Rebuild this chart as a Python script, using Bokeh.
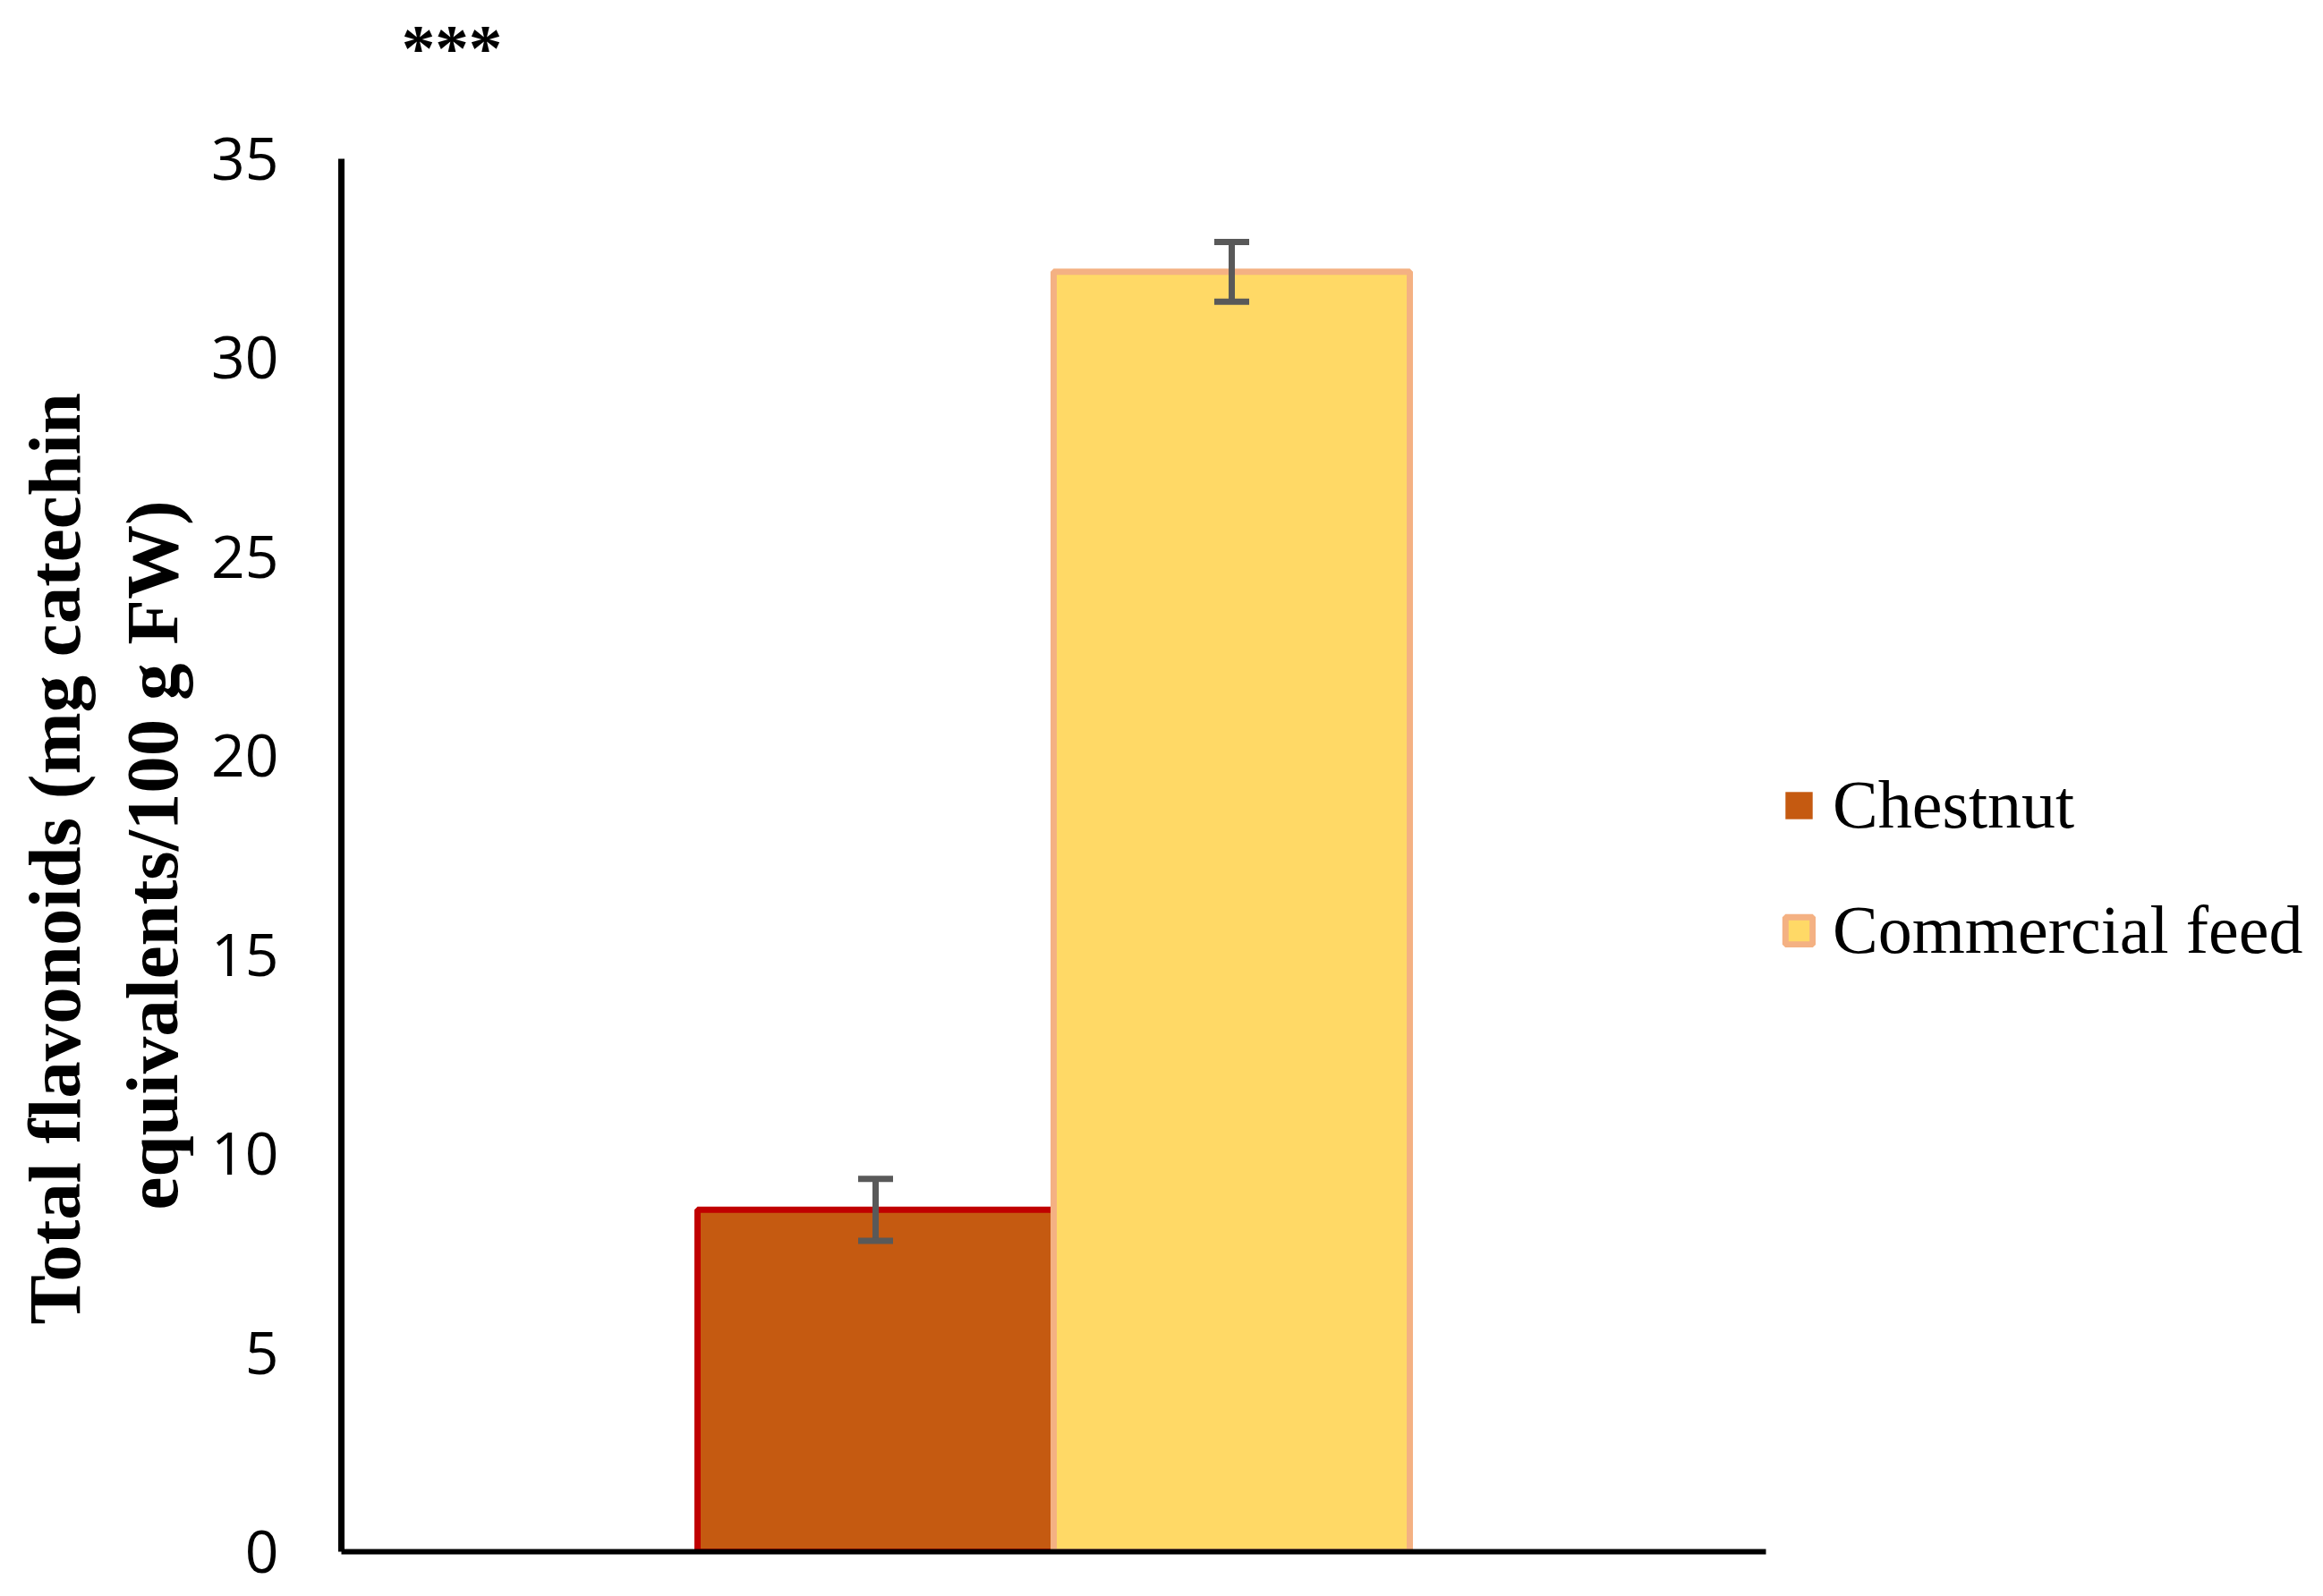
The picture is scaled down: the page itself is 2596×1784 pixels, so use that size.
from bokeh.plotting import figure
from bokeh.models import (ColumnDataSource, Range1d, FixedTicker, Whisker, TeeHead,
                          Legend, LegendItem, Label, Title)
from bokeh.embed import file_html
from bokeh.resources import INLINE

# ---- data ----
groups = ["Chestnut", "Commercial feed"]
x_pos = [1.5, 2.5]
means = [8.59, 32.16]
errors = [0.78, 0.75]
fill_colors = ["#C55A11", "#FFD966"]
line_colors = ["#C00000", "#F4B183"]
y_ticks = [0, 5, 10, 15, 20, 25, 30, 35]
y_max = 35
x_max = 4
y_title_lines = ["Total flavonoids (mg catechin", "equivalents/100 g FW)"]
signif = "***"

# ---- layout (pixels) ----
W, H = 2580, 1768
left_px, axis_right_px = 381, 1973      # ends of the drawn x axis
top_px, bottom_px = 177, 1734           # ends of the drawn y axis
mb_top, mb_right = 10, 0
px_per_x = (axis_right_px - left_px) / x_max
px_per_y = (bottom_px - top_px) / y_max
x_end = x_max + (W - mb_right - axis_right_px) / px_per_x
y_end = y_max + (top_px - mb_top) / px_per_y
title_px = 83
# approximate text lengths (Times bold em widths) to centre each title line on the axis
title_em = [12.639, 9.556]
axis_mid_from_bottom = (bottom_px - top_px) / 2
title_offsets = [axis_mid_from_bottom - e * title_px / 2 for e in title_em]

p = figure(width=W, height=H, output_backend="svg", toolbar_location=None,
           x_range=Range1d(0, x_end), y_range=Range1d(0, y_end),
           min_border_left=left_px, min_border_right=mb_right,
           min_border_top=mb_top, min_border_bottom=H - bottom_px)
p.outline_line_color = None
p.xgrid.grid_line_color = None
p.ygrid.grid_line_color = None
p.background_fill_color = "white"
p.border_fill_color = "white"

src_c = ColumnDataSource(dict(x=[x_pos[0]], top=[means[0]],
                              upper=[means[0] + errors[0]], lower=[means[0] - errors[0]]))
src_f = ColumnDataSource(dict(x=[x_pos[1]], top=[means[1]],
                              upper=[means[1] + errors[1]], lower=[means[1] - errors[1]]))

# chestnut: fill (legend) + red outline
r_c = p.vbar(x="x", top="top", width=1, bottom=0, source=src_c,
             fill_color=fill_colors[0], line_color=None)
p.vbar(x="x", top="top", width=1, bottom=0, source=src_c,
       fill_alpha=0, line_color=line_colors[0], line_width=7)
r_f = p.vbar(x="x", top="top", width=1, bottom=0, source=src_f,
             fill_color=fill_colors[1], line_color=line_colors[1], line_width=7)

for s in (src_c, src_f):
    w = Whisker(base="x", upper="upper", lower="lower", source=s,
                line_color="#595959", line_width=7, level="overlay",
                upper_head=TeeHead(size=39, line_color="#595959", line_width=7),
                lower_head=TeeHead(size=39, line_color="#595959", line_width=7))
    p.add_layout(w)

# axes
yax = p.yaxis[0]
yax.bounds = (0, y_max)
yax.ticker = FixedTicker(ticks=y_ticks)
yax.axis_line_width = 7
yax.axis_line_color = "black"
yax.major_tick_line_color = None
yax.minor_tick_line_color = None
yax.major_tick_out = 0
yax.major_tick_in = 0
yax.major_label_standoff = 70
yax.major_label_text_font = "Open Sans"
yax.major_label_text_font_size = "66px"
yax.major_label_text_color = "black"

# y-axis title: two lines, inner line added first (closest to the axis)
for text, off, so in [(y_title_lines[1], title_offsets[1], 36),
                      (y_title_lines[0], title_offsets[0], -6)]:
    t = Title(text=text, align="left", offset=off, standoff=so,
              text_font="Liberation Serif", text_font_style="bold",
              text_font_size=f"{title_px}px", text_color="black")
    p.add_layout(t, "left")

xax = p.xaxis[0]
xax.bounds = (0, x_max)
xax.axis_line_width = 6
xax.axis_line_color = "black"
xax.major_tick_line_color = None
xax.minor_tick_line_color = None
xax.major_tick_out = 0
xax.major_tick_in = 0
xax.major_label_text_font_size = "0px"
xax.major_label_standoff = 0

legend = Legend(items=[LegendItem(label=groups[0], renderers=[r_c]),
                       LegendItem(label=groups[1], renderers=[r_f])],
                location=(1610, 651), orientation="vertical",
                glyph_width=38, glyph_height=38, label_standoff=19,
                label_text_font="Liberation Serif", label_text_font_size="76px",
                label_text_color="black", spacing=53, padding=0, margin=0,
                border_line_color=None, background_fill_alpha=0)
p.add_layout(legend, "center")

lab = Label(x=0.31, y=37.79, text=signif, text_font="Liberation Serif",
            text_font_style="bold", text_font_size="75px", text_align="center",
            text_baseline="alphabetic", text_color="black")
p.add_layout(lab)

open("out.html", "w").write(file_html(p, INLINE))
